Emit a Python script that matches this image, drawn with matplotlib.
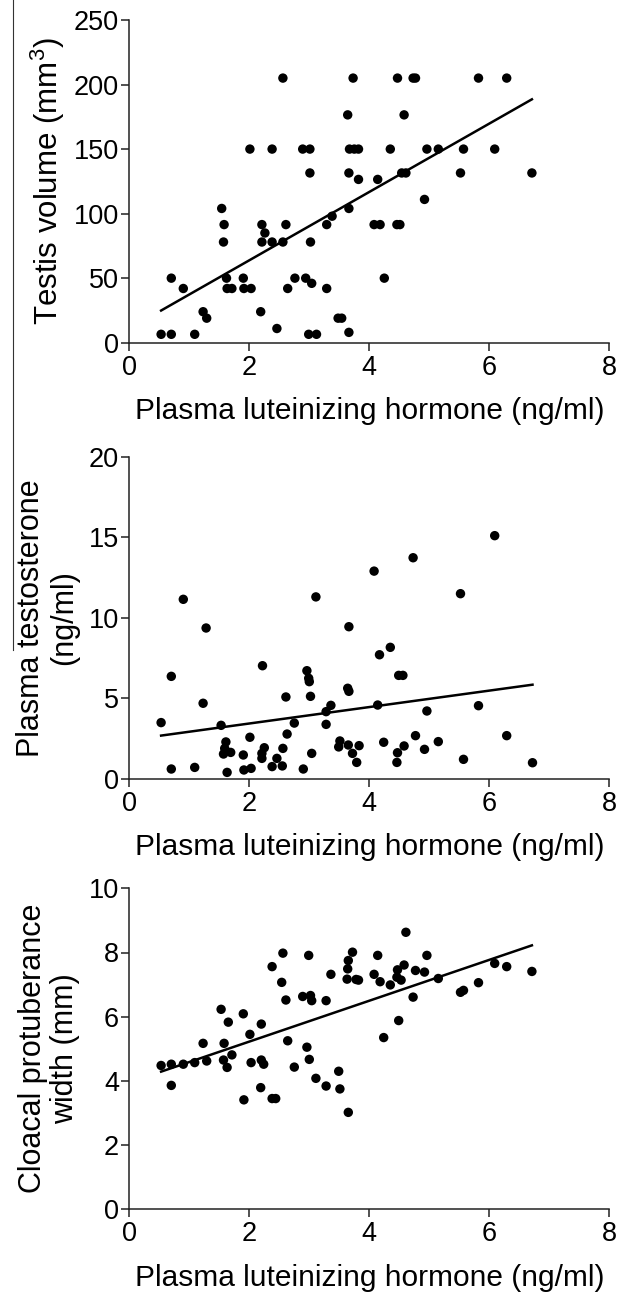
import numpy as np
import matplotlib
matplotlib.use("Agg")
import matplotlib.pyplot as plt
from matplotlib.lines import Line2D

plt.rcParams['font.family'] = ['Liberation Sans', 'DejaVu Sans']
plt.rcParams['mathtext.fontset'] = 'custom'
plt.rcParams['mathtext.rm'] = 'Liberation Sans'
plt.rcParams['mathtext.it'] = 'Liberation Sans:italic'
plt.rcParams['mathtext.default'] = 'regular'

# --- data ---
lh_testis = [0.53, 0.70, 0.70, 0.90, 1.09, 1.23, 1.29, 1.54, 1.58, 1.57, 1.62, 1.63, 1.71,
             1.90, 1.91, 2.03, 2.01, 2.19, 2.21, 2.26, 2.21, 2.38, 2.38, 2.46, 2.56, 2.61,
             2.56, 2.64, 2.76, 2.89, 3.01, 3.01, 3.02, 2.94, 3.04, 2.99, 3.12, 3.29, 3.29,
             3.38, 3.48, 3.54, 3.66, 3.64, 3.66, 3.66, 3.73, 3.67, 3.75, 3.82, 3.82, 4.35,
             4.47, 4.73, 4.77, 4.58, 4.96, 5.15, 5.57, 6.09, 5.82, 6.29, 4.14, 4.54, 4.61,
             5.52, 6.71, 4.92, 4.08, 4.18, 4.46, 4.51, 4.25]
testis_vol = [6.5, 6.5, 50, 42, 6.5, 24, 19, 104, 91.5, 78, 50, 42, 42,
              50, 42, 42, 150, 24, 91.5, 85, 78, 150, 78, 11, 205, 91.5,
              78, 42, 50, 150, 150, 131.5, 78, 50, 46, 6.5, 6.5, 42, 91.5,
              98, 19, 19, 8, 176.5, 131.5, 104, 205, 150, 150, 150, 126.5, 150,
              205, 205, 205, 176.5, 150, 150, 150, 150, 205, 205, 126.5, 131.5, 131.5,
              131.5, 131.5, 111, 91.5, 91.5, 91.5, 91.5, 50]

lh_testo = [0.53, 0.70, 0.70, 0.90, 1.09, 1.23, 1.28, 1.53, 1.61, 1.59, 1.57, 1.69, 1.63,
            1.90, 1.91, 2.01, 2.03, 2.22, 2.25, 2.21, 2.21, 2.46, 2.38, 2.56, 2.63, 2.55,
            2.61, 2.75, 2.90, 2.96, 2.99, 3.00, 3.02, 3.04, 3.11, 3.28, 3.36, 3.28, 3.51,
            3.49, 3.64, 3.66, 3.66, 3.65, 3.72, 3.79, 3.83, 4.08, 4.17, 4.35, 4.14, 4.24,
            4.49, 4.56, 4.47, 4.46, 4.58, 4.73, 4.77, 4.92, 4.96, 5.15, 5.52, 5.57, 5.82,
            6.09, 6.29, 6.72]
testosterone = [3.5, 6.37, 0.62, 11.15, 0.72, 4.7, 9.37, 3.33, 2.3, 1.9, 1.55, 1.65, 0.41,
                1.49, 0.56, 2.59, 0.66, 7.03, 1.94, 1.59, 1.28, 1.28, 0.77, 1.9, 2.79, 0.81,
                5.09, 3.47, 0.62, 6.72, 6.25, 6.04, 5.13, 1.59, 11.3, 4.18, 4.57, 3.39, 2.36,
                1.99, 5.63, 5.44, 9.45, 2.11, 1.59, 1.03, 2.07, 12.9, 7.71, 8.17, 4.59, 2.28,
                6.43, 6.43, 1.63, 1.03, 2.05, 13.73, 2.69, 1.84, 4.22, 2.32, 11.5, 1.22, 4.55,
                15.1, 2.69, 1.01]

lh_cloaca = [0.53, 0.70, 0.70, 0.90, 1.09, 1.23, 1.29, 1.53, 1.58, 1.65, 1.57, 1.63, 1.71,
             1.90, 2.01, 2.03, 1.91, 2.20, 2.20, 2.24, 2.19, 2.38, 2.44, 2.38, 2.56, 2.54,
             2.61, 2.64, 2.75, 2.89, 2.99, 3.02, 3.04, 2.96, 3.00, 3.11, 3.28, 3.36, 3.28,
             3.49, 3.51, 3.65, 3.72, 3.65, 3.64, 3.63, 3.78, 3.82, 4.14, 4.08, 4.18, 4.35,
             4.24, 4.49, 4.47, 4.46, 4.53, 4.58, 4.61, 4.77, 4.73, 4.92, 4.96, 5.15, 5.52,
             5.57, 5.82, 6.09, 6.29, 6.71]
cloaca_width = [4.48, 4.52, 3.86, 4.52, 4.57, 5.17, 4.62, 6.23, 5.17, 5.83, 4.65, 4.42, 4.81,
                6.09, 5.45, 4.57, 3.41, 5.77, 4.65, 4.52, 3.79, 3.45, 3.45, 7.56, 7.98, 7.07,
                6.52, 5.25, 4.43, 6.63, 7.91, 6.66, 6.50, 5.05, 4.67, 4.08, 6.50, 7.32, 3.84,
                4.30, 3.75, 3.02, 8.01, 7.75, 7.49, 7.17, 7.16, 7.14, 7.91, 7.32, 7.09, 6.99,
                5.35, 5.88, 7.46, 7.23, 7.14, 7.61, 8.63, 7.44, 6.61, 7.39, 7.91, 7.19, 6.76,
                6.82, 7.06, 7.66, 7.56, 7.41]

panels = [
    (lh_testis, testis_vol, 'Testis volume (mm$^3$)', [0, 50, 100, 150, 200, 250], 5, 22.5),
    (lh_testo, testosterone, 'Plasma testosterone\n(ng/ml)', [0, 5, 10, 15, 20], 7, 22),
    (lh_cloaca, cloaca_width, 'Cloacal protuberance\nwidth (mm)', [0, 2, 4, 6, 8, 10], 6, 22),
]
xticks = [0, 2, 4, 6, 8]

fig = plt.figure(figsize=(6.17, 12.92), dpi=100)
W, H = 617, 1292
# axes boxes in pixels: (top, bottom)
boxes = [(20, 342.7), (456.7, 779), (888.3, 1209.3)]
left_px, right_px = 129.3, 609.3

for (x, y, ylab, yt, ypad, yfs), (top, bot) in zip(panels, boxes):
    ax = fig.add_axes([left_px / W, 1 - bot / H, (right_px - left_px) / W, (bot - top) / H])
    x = np.array(x)
    y = np.array(y)
    ax.scatter(x, y, s=46, color='black', edgecolors='none', zorder=3, clip_on=False)
    k, b = np.polyfit(x, y, 1)
    xx = np.array([x.min(), x.max()])
    ax.plot(xx, k * xx + b, color='black', lw=1.8, zorder=2)

    ax.set_xlim(0, 8)
    ax.set_ylim(yt[0], yt[-1])
    ax.set_xticks(xticks)
    ax.set_yticks(yt)
    for s in ['top', 'right']:
        ax.spines[s].set_visible(False)
    for s in ['left', 'bottom']:
        ax.spines[s].set_linewidth(1.1)
        ax.spines[s].set_color('#222222')
    ax.tick_params(axis='both', direction='out', length=5.5, width=1.1,
                   color='#222222', labelsize=19.5)
    ax.tick_params(axis='x', pad=3)
    ax.tick_params(axis='y', pad=2)
    ax.set_xlabel('Plasma luteinizing hormone (ng/ml)', fontsize=21.5, labelpad=12)
    ax.set_ylabel(ylab, fontsize=yfs, labelpad=ypad, linespacing=1.12)

# stray vertical rule at the left edge of the source image
fig.add_artist(Line2D([13 / W, 13 / W], [1, 1 - 650 / H], color='#333333', lw=0.8))

fig.savefig('out.png', dpi=100)
